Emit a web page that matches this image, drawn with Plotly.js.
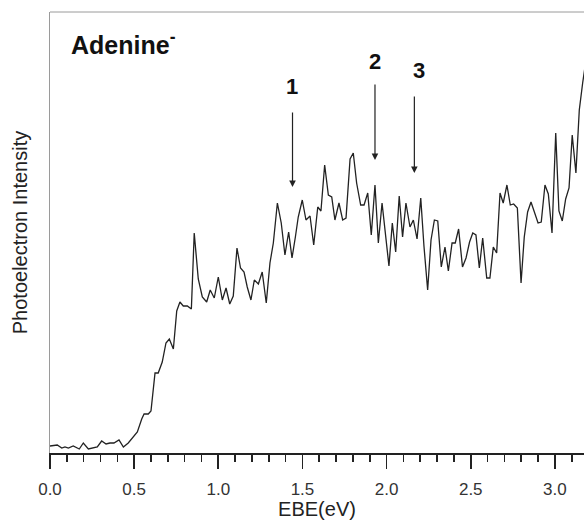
<!DOCTYPE html>
<html>
<head>
<meta charset="utf-8">
<script src="https://cdn.plot.ly/plotly-3.0.1.min.js"></script>
<style>
  html, body { margin: 0; padding: 0; background: #fff; }
  #chart { width: 584px; height: 520px; }
</style>
</head>
<body>
<div id="chart"></div>
<script>
// Electron binding energy (eV)
const ebe = [
  0.000, 0.043, 0.070, 0.089, 0.109, 0.138, 0.174, 0.198, 0.228, 0.257,
  0.281, 0.307, 0.333, 0.356, 0.380, 0.410, 0.436, 0.465, 0.495, 0.519,
  0.545, 0.559, 0.584, 0.600, 0.624, 0.643, 0.667, 0.689, 0.709, 0.733,
  0.753, 0.772, 0.792, 0.816, 0.840, 0.857, 0.881, 0.905, 0.931, 0.952,
  0.976, 1.000, 1.024, 1.046, 1.068, 1.089, 1.111, 1.132, 1.153, 1.172,
  1.194, 1.214, 1.238, 1.261, 1.285, 1.307, 1.327, 1.351, 1.374, 1.396,
  1.418, 1.438, 1.458, 1.475, 1.499, 1.521, 1.545, 1.567, 1.591, 1.610,
  1.632, 1.654, 1.674, 1.693, 1.717, 1.739, 1.759, 1.783, 1.802, 1.822,
  1.846, 1.866, 1.888, 1.909, 1.931, 1.951, 1.973, 1.992, 2.014, 2.034,
  2.054, 2.075, 2.095, 2.115, 2.139, 2.159, 2.181, 2.203, 2.222, 2.244,
  2.264, 2.284, 2.304, 2.325, 2.347, 2.367, 2.389, 2.408, 2.428, 2.451,
  2.472, 2.493, 2.512, 2.531, 2.551, 2.571, 2.595, 2.614, 2.634, 2.654,
  2.674, 2.693, 2.715, 2.735, 2.755, 2.777, 2.799, 2.818, 2.838, 2.858,
  2.880, 2.900, 2.919, 2.941, 2.961, 2.983, 3.005, 3.024, 3.044, 3.064,
  3.084, 3.103, 3.125, 3.145, 3.165, 3.185
];
// Photoelectron intensity (arbitrary units)
const intensity = [
  7, 8, 5, 6, 5, 7, 4, 10, 4, 5,
  6, 12, 9, 10, 10, 13, 6, 10, 16, 21,
  34, 39, 39, 42, 80, 80, 91, 110, 114, 104,
  142, 151, 147, 147, 144, 220, 174, 156, 151, 163,
  155, 176, 153, 165, 149, 157, 205, 185, 181, 166,
  153, 173, 169, 181, 150, 190, 210, 250, 230, 198,
  221, 195, 216, 236, 253, 233, 237, 208, 246, 242,
  288, 258, 256, 233, 250, 233, 235, 294, 300, 270,
  248, 248, 260, 218, 268, 210, 250, 223, 187, 230,
  201, 257, 216, 250, 226, 233, 214, 255, 207, 163,
  213, 233, 232, 186, 206, 182, 210, 210, 224, 186,
  195, 211, 220, 218, 185, 215, 175, 175, 206, 200,
  260, 250, 268, 248, 249, 245, 170, 216, 241, 251,
  240, 230, 231, 268, 259, 220, 320, 242, 232, 254,
  265, 318, 280, 343, 370, 393
];
// Peak markers: labels, arrow positions (eV), arrow tip / tail heights, label heights
const peakLabels = ["1", "2", "3"];
const peakArrowX = [1.441, 1.931, 2.165];
const peakTipY = [266, 293, 280];
const peakTailY = [342, 370, 358];
const peakLabelX = [1.438, 1.931, 2.193];
const peakLabelY = [367, 392, 383];

const xTickVals = [0.0, 0.5, 1.0, 1.5, 2.0, 2.5, 3.0];
const xTickText = ["0.0", "0.5", "1.0", "1.5", "2.0", "2.5", "3.0"];

const FONT = "Liberation Sans, Arial, Helvetica, sans-serif";

const trace = {
  x: ebe,
  y: intensity,
  type: "scatter",
  mode: "lines",
  line: { color: "#222222", width: 1.3 },
  hoverinfo: "skip",
  showlegend: false
};

const annotations = [];
for (let i = 0; i < peakLabels.length; i++) {
  annotations.push({
    x: peakArrowX[i], y: peakTipY[i], xref: "x", yref: "y",
    ax: peakArrowX[i], ay: peakTailY[i], axref: "x", ayref: "y",
    text: "", showarrow: true, arrowhead: 2, arrowsize: 1.1,
    arrowwidth: 1.2, arrowcolor: "#222222", standoff: 0, startstandoff: 0
  });
  annotations.push({
    x: peakLabelX[i], y: peakLabelY[i], xref: "x", yref: "y",
    text: "<b>" + peakLabels[i] + "</b>", showarrow: false,
    xanchor: "center", yanchor: "middle",
    font: { family: FONT, size: 22, color: "#111111" }
  });
}
annotations.push({
  x: 0.035, y: 0.93, xref: "paper", yref: "paper",
  xanchor: "left", yanchor: "middle", showarrow: false,
  text: "<b>Adenine</b><sup><b>-</b></sup>",
  font: { family: FONT, size: 25, color: "#111111" }
});

const layout = {
  width: 584, height: 520,
  margin: { l: 50, r: 0, t: 12, b: 67, pad: 0 },
  paper_bgcolor: "#ffffff",
  plot_bgcolor: "#ffffff",
  font: { family: FONT, color: "#222222" },
  xaxis: {
    range: [0, 3.173],
    tickmode: "array", tickvals: xTickVals, ticktext: xTickText,
    ticks: "outside", ticklen: 14, tickwidth: 1.6, tickcolor: "#222222",
    minor: { dtick: 0.1, tick0: 0, ticks: "outside", ticklen: 7, tickwidth: 1.6, tickcolor: "#222222", showgrid: false },
    showline: true, linecolor: "#222222", linewidth: 2,
    showgrid: false, zeroline: false,
    ticklabelstandoff: 6,
    tickfont: { family: FONT, size: 17, color: "#333333" },
    title: { text: "EBE(eV)", font: { family: FONT, size: 20, color: "#222222" }, standoff: 2 },
    fixedrange: true
  },
  yaxis: {
    range: [0, 441],
    showticklabels: false, ticks: "",
    showline: true, linecolor: "#9a9a9a", linewidth: 1,
    showgrid: false, zeroline: false,
    title: { text: "Photoelectron Intensity", font: { family: FONT, size: 20, color: "#222222" }, standoff: 16 },
    fixedrange: true
  },
  shapes: [{
    type: "line", xref: "paper", yref: "paper",
    x0: 0, x1: 1, y0: 1, y1: 1,
    line: { color: "#9a9a9a", width: 1 }
  }],
  annotations: annotations
};

Plotly.newPlot("chart", [trace], layout, { staticPlot: true, displayModeBar: false });
</script>
</body>
</html>
